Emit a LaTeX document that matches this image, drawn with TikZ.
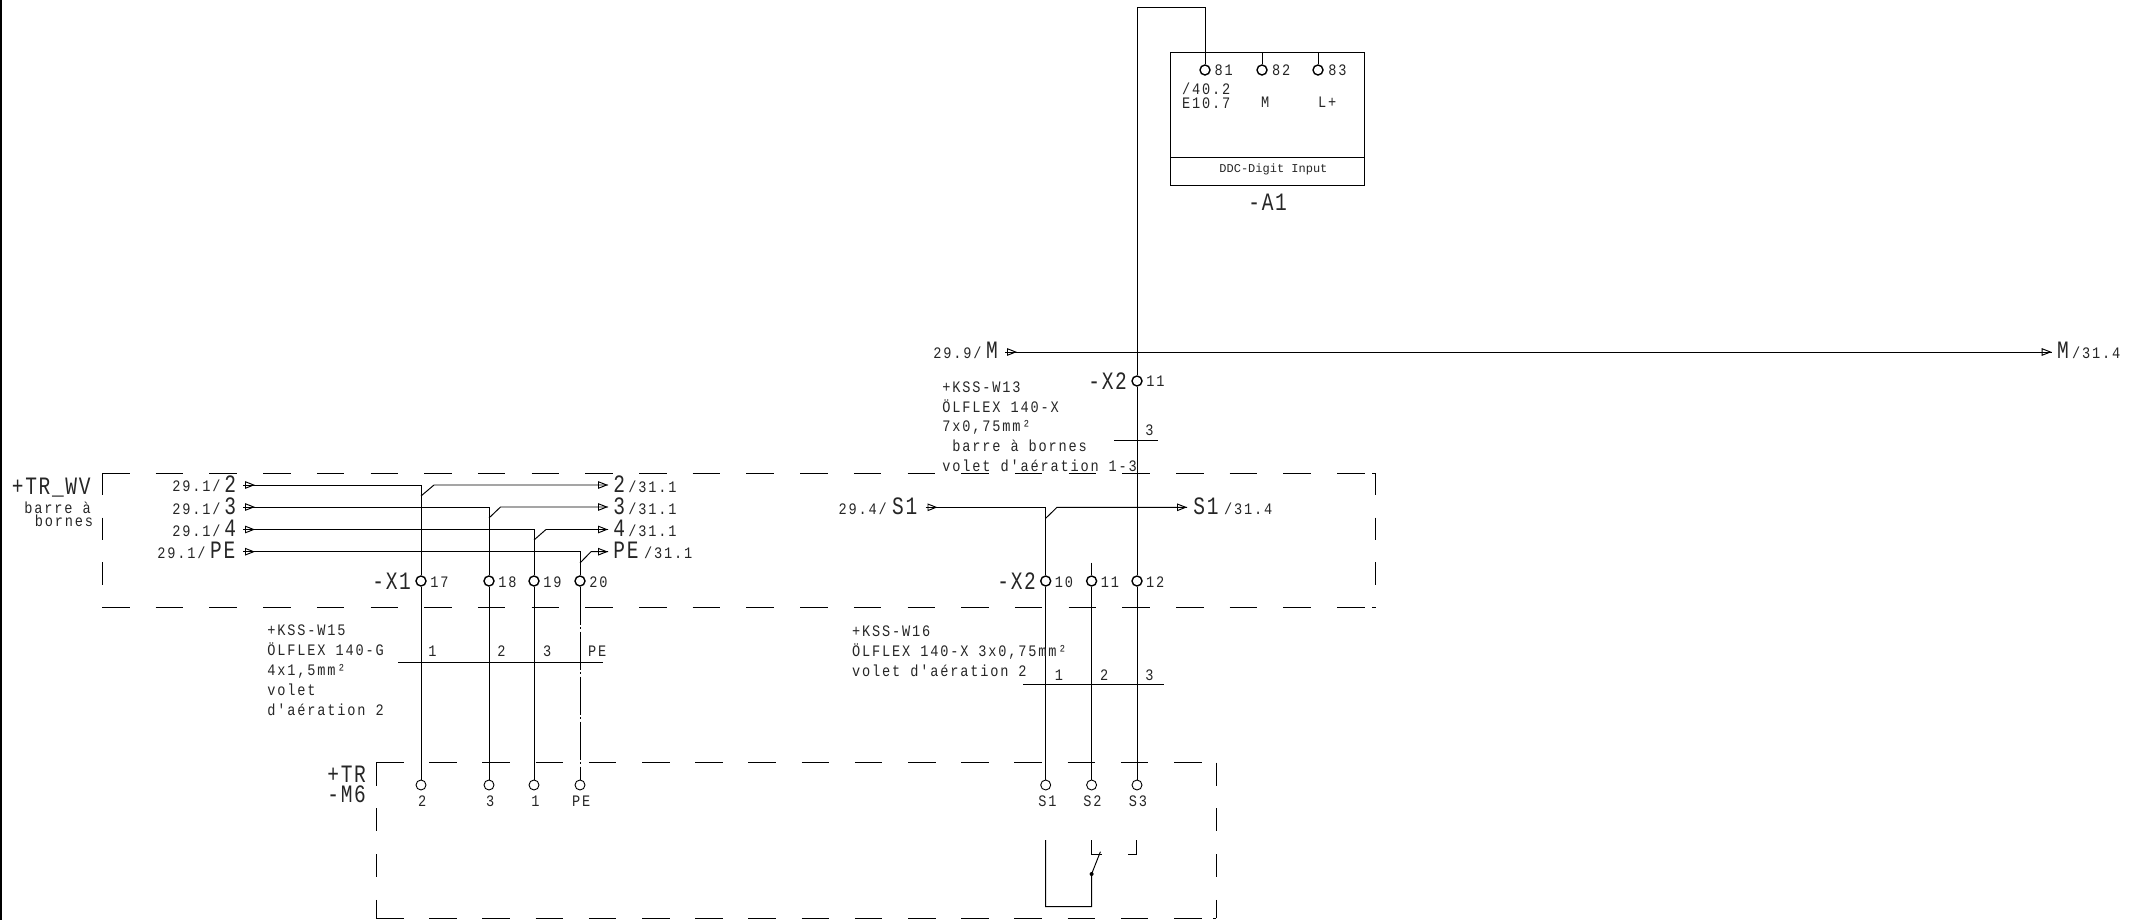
\documentclass[tikz,border=0pt]{standalone}
\usepackage{fontspec}
\usetikzlibrary{arrows.meta,decorations.markings}
\newfontfamily\cadfont[LetterSpace=11.5,FakeStretch=.85]{Liberation Mono}
\newfontfamily\cadbigfont[LetterSpace=6.8,FakeStretch=.78]{Liberation Mono}
\newfontfamily\cadtinyfont{Liberation Mono}
\newcommand{\cadsmall}{\cadfont\fontsize{8}{9}\selectfont}
\newcommand{\cadbig}{\cadbigfont\fontsize{12.5}{14}\selectfont}
\newcommand{\cadtiny}{\cadtinyfont\fontsize{6}{7}\selectfont}
\tikzset{
	conn/.style={line width=.48pt,black},
	lbl/.style={anchor=base west,inner sep=0pt,text=black!85,font=\cadsmall},
	lblbig/.style={anchor=base west,inner sep=0pt,text=black!85,font=\cadbig},
	lbltiny/.style={anchor=base west,inner sep=0pt,text=black!85,font=\cadtiny},
	term/.style={circle,draw,line width=.7pt,inner sep=0pt,minimum size=5pt},
	termlow/.style={circle,draw,line width=.45pt,inner sep=0pt,minimum size=5pt},
	sigin/.style={conn,postaction={decorate,decoration={markings,mark=at position 6pt with {\arrow{Triangle[open,length=5pt,width=3.8pt]}}}}},
	sigout/.style={conn,postaction={decorate,decoration={markings,mark=at position 1 with {\arrow{Triangle[open,length=5pt,width=3.8pt]}}}}},
	sigboth/.style={conn,postaction={decorate,decoration={markings,mark=at position 6pt with {\arrow{Triangle[open,length=5pt,width=3.8pt]}},mark=at position 1 with {\arrow{Triangle[open,length=5pt,width=3.8pt]}}}}},
	dashwvh/.style={line width=.48pt,dash pattern=on 13.75pt off 13.1pt},
	dashwvv/.style={line width=.48pt,dash pattern=on 11.2pt off 11.15pt},
	dashtrh/.style={line width=.48pt,dash pattern=on 13.75pt off 12.85pt},
	dashtrv/.style={line width=.48pt,dash pattern=on 11.4pt off 11.45pt},
	dashpe/.style={conn,dash pattern=on 19pt off 1.25pt on 1pt off 1.25pt}
}
\begin{document}
\begin{tikzpicture}[x=.5pt,y=-.5pt]
	\useasboundingbox (0,0) rectangle (2142,920);

	\coordinate (b1) at (1,0); \coordinate (b2) at (1,920);
	\draw[line width=1pt] (b1) -- (b2);

	\coordinate (wv1) at (102,473); \coordinate (wv2) at (1375.6,473);
	\coordinate (wv3) at (1375.6,607); \coordinate (wv4) at (102,607);
	\draw[dashwvh] (wv1) -- (wv2); \draw[dashwvh] (wv4) -- (wv3);
	\draw[dashwvv] (wv1) -- (wv4); \draw[dashwvv] (wv2) -- (wv3);
	\draw[conn] (wv2) -- ++(-4,0); \draw[conn] (wv3) -- ++(-4,0);

	\coordinate (tr1) at (376,762.7); \coordinate (tr2) at (1216.4,762.7);
	\coordinate (tr3) at (1216.4,918); \coordinate (tr4) at (376,918);
	\draw[dashtrh] (tr1) -- (tr2); \draw[dashtrh] (tr4) -- (tr3);
	\draw[dashtrv] (tr1) -- (tr4); \draw[dashtrv] (tr2) -- (tr3);
	\draw[conn] (tr3) -- ++(-3,0);

	\coordinate (a1nw) at (1170.7,52); \coordinate (a1se) at (1364,185);
	\coordinate (a1l) at (1170.7,157); \coordinate (a1r) at (1364,157);
	\draw[conn] (a1nw) rectangle (a1se); \draw[conn] (a1l) -- (a1r);

	\node[term] (t81) at (1205,70) {};
	\node[term] (t82) at (1262,70) {};
	\node[term] (t83) at (1318,70) {};
	\node[term] (x11) at (1137,381) {};
	\node[term] (t17) at (421,581) {};
	\node[term] (t18) at (489,581) {};
	\node[term] (t19) at (534,581) {};
	\node[term] (t20) at (580,581) {};
	\node[term] (x10) at (1045.7,581) {};
	\node[term] (y11) at (1091.6,581) {};
	\node[term] (x12) at (1137,581) {};
	\node[termlow] (m2) at (421,785) {};
	\node[termlow] (m3) at (489,785) {};
	\node[termlow] (m1) at (534,785) {};
	\node[termlow] (mpe) at (580,785) {};
	\node[termlow] (s1) at (1045.7,785) {};
	\node[termlow] (s2) at (1091.6,785) {};
	\node[termlow] (s3) at (1137,785) {};

	\coordinate (c1) at (1205,7); \coordinate (c2) at (1137,7);
	\coordinate (a82) at (1262,52); \coordinate (a83) at (1318,52);
	\draw[conn] (t81) -- (c1) -- (c2) -- (x11);
	\draw[conn] (t82) -- (a82); \draw[conn] (t83) -- (a83);
	\draw[conn] (x11) -- (x12); \draw[conn] (x12) -- (s3);

	\coordinate (inm) at (1005,352); \coordinate (outm) at (2051.7,352);
	\draw[sigboth] (inm) -- (outm);

	\coordinate (in2) at (243,485); \coordinate (k2) at (421,485);
	\coordinate (in3) at (243,507); \coordinate (k3) at (489,507);
	\coordinate (in4) at (243,529.5); \coordinate (k4) at (534,529.5);
	\coordinate (inpe) at (243,551.7); \coordinate (kpe) at (580,551.7);
	\draw[sigin] (in2) -- (k2) -- (t17); \draw[conn] (t17) -- (m2);
	\draw[sigin] (in3) -- (k3) -- (t18); \draw[conn] (t18) -- (m3);
	\draw[sigin] (in4) -- (k4) -- (t19); \draw[conn] (t19) -- (m1);
	\draw[sigin] (inpe) -- (kpe) -- (t20); \draw[dashpe] (t20) -- (mpe);

	\coordinate (d2) at (421,496); \coordinate (e2) at (434,485); \coordinate (out2) at (608,485);
	\coordinate (d3) at (489,518); \coordinate (e3) at (500.5,507); \coordinate (out3) at (608,507);
	\coordinate (d4) at (534,540); \coordinate (e4) at (546,529.5); \coordinate (out4) at (608,529.5);
	\coordinate (dpe) at (580,563); \coordinate (epe) at (591,551.7); \coordinate (outpe) at (608,551.7);
	\draw[sigout] (d2) -- (e2) -- (out2);
	\draw[sigout] (d3) -- (e3) -- (out3);
	\draw[sigout] (d4) -- (e4) -- (out4);
	\draw[sigout] (dpe) -- (epe) -- (outpe);

	\coordinate (ins) at (925.5,507.3); \coordinate (ks) at (1045.7,507.3);
	\coordinate (ds) at (1045.7,518.3); \coordinate (es) at (1057,507.3); \coordinate (outs) at (1187,507.3);
	\draw[sigin] (ins) -- (ks) -- (x10); \draw[conn] (x10) -- (s1);
	\draw[sigout] (ds) -- (es) -- (outs);
	\coordinate (st11) at (1091.6,562.7);
	\draw[conn] (st11) -- (y11); \draw[conn] (y11) -- (s2);

	\coordinate (w13a) at (1114,440.7); \coordinate (w13b) at (1158,440.7);
	\coordinate (w15a) at (398,662.7); \coordinate (w15b) at (603,662.7);
	\coordinate (w16a) at (1023,684.7); \coordinate (w16b) at (1163.6,684.7);
	\draw[conn] (w13a) -- (w13b); \draw[conn] (w15a) -- (w15b); \draw[conn] (w16a) -- (w16b);

	\coordinate (k1) at (1045.7,840); \coordinate (k2a) at (1045.7,906.7); \coordinate (k3a) at (1091.6,906.7);
	\coordinate (k4a) at (1091.6,840); \coordinate (k5) at (1091.6,854); \coordinate (k6) at (1102,854);
	\coordinate (k7) at (1136.8,840); \coordinate (k8) at (1136.8,854); \coordinate (k9) at (1128,854);
	\coordinate (k10) at (1091.6,874); \coordinate (k11) at (1100.4,851.7);
	\draw[conn] (k1) -- (k2a) -- (k3a) -- (k10) -- (k11);
	\draw[conn] (k4a) -- (k5) -- (k6);
	\draw[conn] (k7) -- (k8) -- (k9);
	\fill (k10) circle (2);

	\node[lbl] (l81) at (1214.3,76) {81};
	\node[lbl] (l82) at (1271.7,76) {82};
	\node[lbl] (l83) at (1328,76) {83};
	\node[lbl] (l402) at (1181.7,95) {/40.2};
	\node[lbl] (le107) at (1181.7,108.7) {E10.7};
	\node[lbl] (lm) at (1260.7,108) {M};
	\node[lbl] (ll) at (1317.7,107.5) {L+};
	\node[lbltiny] (lddc) at (1219,172.7) {DDC-Digit Input};
	\node[lblbig] (la1) at (1248,210.7) {-A1};

	\node[lbl] (l299) at (933,358) {29.9/};
	\node[lblbig] (lm1) at (985.7,358.5) {M};
	\node[lblbig] (lm2) at (2056.7,358.5) {M};
	\node[lbl] (l314a) at (2071.7,358) {/31.4};

	\node[lblbig] (lx2a) at (1088,389) {-X2};
	\node[lbl] (l11a) at (1146,386.7) {11};
	\node[lbl] (lw13) at (942,392) {+KSS-W13};
	\node[lbl] (lo13) at (942,412) {ÖLFLEX 140-X};
	\node[lbl] (lq13) at (942,431.3) {7x0,75mm²};
	\node[lbl] (lb13) at (952,451.7) {barre à bornes};
	\node[lbl] (lv13) at (942,471) {volet d'aération 1-3};
	\node[lbl] (l313) at (1145,435) {3};

	\node[lblbig] (lwv) at (11.5,494) {+TR\_WV};
	\node[lbl] (lbar) at (24,513.3) {barre à};
	\node[lbl] (lbor) at (34.4,526.7) {bornes};

	\node[lbl] (li2) at (172,491.7) {29.1/};
	\node[lbl] (li3) at (172,514) {29.1/};
	\node[lbl] (li4) at (172,536.7) {29.1/};
	\node[lbl] (lipe) at (157,558) {29.1/};
	\node[lblbig] (lb2) at (224,492) {2};
	\node[lblbig] (lb3) at (224,514) {3};
	\node[lblbig] (lb4) at (224,536.7) {4};
	\node[lblbig] (lbpe) at (209.8,558) {PE};
	\node[lblbig] (lo2) at (613,492) {2};
	\node[lblbig] (lo3) at (613,514) {3};
	\node[lblbig] (lo4) at (613,536.7) {4};
	\node[lblbig] (lope) at (613,558) {PE};
	\node[lbl] (lr2) at (628,492) {/31.1};
	\node[lbl] (lr3) at (628,514) {/31.1};
	\node[lbl] (lr4) at (628,536.7) {/31.1};
	\node[lbl] (lrpe) at (643.7,558) {/31.1};

	\node[lblbig] (lx1) at (372,589) {-X1};
	\node[lbl] (l17) at (430,587) {17};
	\node[lbl] (l18) at (498,587) {18};
	\node[lbl] (l19) at (543,587) {19};
	\node[lbl] (l20) at (589,587) {20};

	\node[lbl] (lw15) at (267,635.3) {+KSS-W15};
	\node[lbl] (lo15) at (267,655.7) {ÖLFLEX 140-G};
	\node[lbl] (lq15) at (267,675.3) {4x1,5mm²};
	\node[lbl] (lv15) at (267,695.3) {volet};
	\node[lbl] (ld15) at (267,715.3) {d'aération 2};
	\node[lbl] (lc1) at (428,656.7) {1};
	\node[lbl] (lc2) at (497,656.7) {2};
	\node[lbl] (lc3) at (542.7,656.7) {3};
	\node[lbl] (lcpe) at (587.7,656.7) {PE};

	\node[lblbig] (ltr) at (327,782.3) {+TR};
	\node[lblbig] (lm6) at (327,802) {-M6};
	\node[lbl] (lm2a) at (417.8,806.7) {2};
	\node[lbl] (lm3a) at (485.8,806.7) {3};
	\node[lbl] (lm1a) at (531,806.7) {1};
	\node[lbl] (lmpe) at (571.6,806.7) {PE};

	\node[lbl] (l294) at (838.3,514) {29.4/};
	\node[lblbig] (ls1a) at (891.8,514) {S1};
	\node[lblbig] (ls1b) at (1193,514) {S1};
	\node[lbl] (l314b) at (1223.6,514) {/31.4};

	\node[lblbig] (lx2b) at (997,589) {-X2};
	\node[lbl] (l10) at (1054.5,587) {10};
	\node[lbl] (l11b) at (1100.4,587) {11};
	\node[lbl] (l12) at (1145.6,587) {12};

	\node[lbl] (lw16) at (851.7,636) {+KSS-W16};
	\node[lbl] (lo16) at (851.7,656) {ÖLFLEX 140-X 3x0,75mm²};
	\node[lbl] (lv16) at (851.7,676) {volet d'aération 2};
	\node[lbl] (ld1) at (1054.5,680) {1};
	\node[lbl] (ld2) at (1099.7,680) {2};
	\node[lbl] (ld3) at (1145,680) {3};
	\node[lbl] (ls1) at (1038,806.7) {S1};
	\node[lbl] (ls2) at (1083,806.7) {S2};
	\node[lbl] (ls3) at (1128.4,806.7) {S3};
\end{tikzpicture}
\end{document}
